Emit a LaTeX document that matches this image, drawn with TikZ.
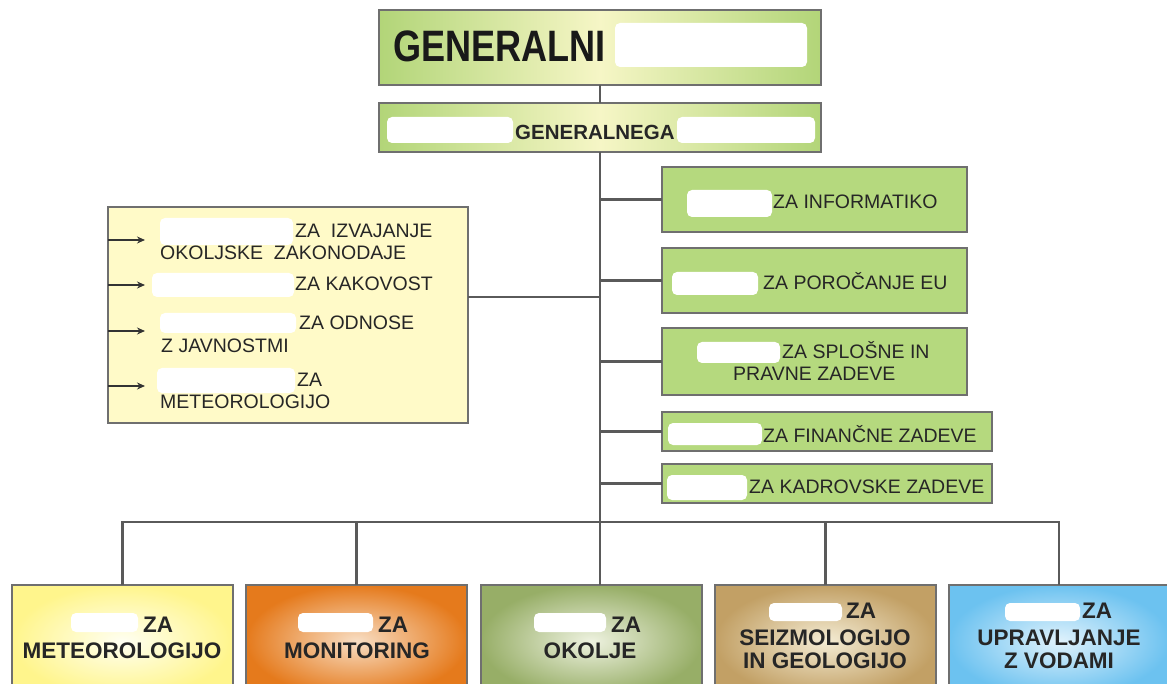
\documentclass[tikz,border=0pt]{standalone}
\usepackage{fontspec}
\setmainfont{Liberation Sans}
\newfontfamily\condbold[FakeStretch=0.82]{Liberation Sans Bold}
\usetikzlibrary{arrows.meta}
\definecolor{edgegray}{HTML}{6F6F6F}
\definecolor{linegray}{HTML}{5A5A5A}
\definecolor{topgreen}{HTML}{B2D578}
\definecolor{toplight}{HTML}{F6F6C6}
\definecolor{boxgreen}{HTML}{B5D97E}
\definecolor{lyellow}{HTML}{FFFAC8}
\definecolor{yout}{HTML}{FFF58C}
\definecolor{yin}{HTML}{FFFFF2}
\definecolor{oout}{HTML}{E57A1C}
\definecolor{oin}{HTML}{F8DEC4}
\definecolor{gout}{HTML}{97AE67}
\definecolor{gin}{HTML}{EEF2E0}
\definecolor{tout}{HTML}{C2A065}
\definecolor{tin}{HTML}{F4ECD4}
\definecolor{bout}{HTML}{6CC2F0}
\definecolor{bin}{HTML}{E0F2FC}
\begin{document}
\begin{tikzpicture}[x=1pt,y=-1pt,
  frame/.style={draw=edgegray, line width=2pt, inner sep=0pt, outer sep=0pt},
  topbox/.style={frame, left color=topgreen, right color=topgreen, middle color=toplight},
  gbox/.style={frame, fill=boxgreen},
  ybox/.style={frame, fill=lyellow},
  bbox/.style={frame, minimum width=221pt, minimum height=112pt},
  conn/.style={draw=linegray, line width=2.6pt},
  arr/.style={draw=black!80, line width=1.3pt, -{Stealth[length=8pt,width=7pt]}},
  blob/.style={fill=white, rounded corners=5pt},
  small/.style={inner sep=0pt, anchor=base west, font=\fontsize{19.5}{22}\selectfont, text=black!85},
  big/.style={inner sep=0pt, anchor=base, font=\fontsize{22.5}{26}\selectfont\bfseries, text=black!85},
  bigw/.style={big, anchor=base west}]
\useasboundingbox (0,0) rectangle (1167,684);
\clip (0,0) rectangle (1167,684);

% top boxes
\node[topbox, minimum width=442pt, minimum height=75pt] (gd) at (600,47.5) {};
\node[topbox, minimum width=442pt, minimum height=49pt] (sgd) at (600,127.5) {};
\fill[blob] (615,23) rectangle (807,67);
\node[inner sep=0pt, anchor=base west, font=\fontsize{44}{48}\condbold, text=black!90] (t1) at (393,62) {GENERALNI};
\fill[blob] (387,117) rectangle (513,143);
\fill[blob] (677,117) rectangle (815,143);
\node[inner sep=0pt, anchor=base west, font=\fontsize{20.5}{24}\selectfont\bfseries, text=black!85] (t2) at (515,140) {GENERALNEGA};

% right boxes
\node[gbox, minimum width=305pt, minimum height=65pt] (r1) at (814.5,199.5) {};
\node[gbox, minimum width=305pt, minimum height=65pt] (r2) at (814.5,280.5) {};
\node[gbox, minimum width=305pt, minimum height=67pt] (r3) at (814.5,361.5) {};
\node[gbox, minimum width=330pt, minimum height=39pt] (r4) at (827,431.5) {};
\node[gbox, minimum width=330pt, minimum height=39pt] (r5) at (827,483.5) {};
\fill[blob] (687,190) rectangle (772,217);
\node[small] (r1t) at (773,209) {ZA INFORMATIKO};
\fill[blob] (672,272) rectangle (758,295);
\node[small] (r2t) at (763,290) {ZA POROČANJE EU};
\fill[blob] (697,342) rectangle (780,363);
\node[small] (r3t) at (782,359) {ZA SPLOŠNE IN};
\node[small] (r3u) at (733,381) {PRAVNE ZADEVE};
\fill[blob] (668,423) rectangle (762,445);
\node[small] (r4t) at (763,442) {ZA FINANČNE ZADEVE};
\fill[blob] (667,475) rectangle (747,500);
\node[small] (r5t) at (749,493) {ZA KADROVSKE ZADEVE};

% left box
\node[ybox, minimum width=360pt, minimum height=216pt] (lb) at (288,315) {};
\fill[blob] (160,218) rectangle (293,245);
\node[small] (l1) at (295,238) {ZA\ \ IZVAJANJE};
\node[small] (l1b) at (160,260) {OKOLJSKE\ \ ZAKONODAJE};
\fill[blob] (152,273) rectangle (294,297);
\node[small] (l2) at (295,291) {ZA KAKOVOST};
\fill[blob] (160,313) rectangle (296,333);
\node[small] (l3) at (299,330) {ZA ODNOSE};
\node[small] (l3b) at (161,353) {Z JAVNOSTMI};
\fill[blob] (157,368) rectangle (295,393);
\node[small] (l4) at (297,387) {ZA};
\node[small] (l4b) at (160,408) {METEOROLOGIJO};
\foreach \yy in {240,285,331,386}
  \draw[arr] (lb.west |- 0,\yy) -- ++(37,0);

% bottom boxes
\node[bbox, inner color=yin, outer color=yout] (b1) at (122.5,641) {};
\node[bbox, inner color=oin, outer color=oout] (b2) at (356.5,641) {};
\node[bbox, inner color=gin, outer color=gout] (b3) at (591,641) {};
\node[bbox, inner color=tin, outer color=tout] (b4) at (825.5,641) {};
\node[bbox, inner color=bin, outer color=bout] (b5) at (1059,641) {};

\fill[blob] (71,613) rectangle (138,632);
\node[bigw] (b1a) at (143,632) {ZA};
\node[big] (b1b) at (122,658) {METEOROLOGIJO};
\fill[blob] (298,613) rectangle (373,632);
\node[bigw] (b2a) at (378,632) {ZA};
\node[big] (b2b) at (357,658) {MONITORING};
\fill[blob] (534,613) rectangle (606,632);
\node[bigw] (b3a) at (611,632) {ZA};
\node[big] (b3b) at (590,658) {OKOLJE};
\fill[blob] (769,603) rectangle (842,621);
\node[bigw] (b4a) at (846,618) {ZA};
\node[big] (b4b) at (825,645) {SEIZMOLOGIJO};
\node[big] (b4c) at (825,668) {IN GEOLOGIJO};
\fill[blob] (1005,603) rectangle (1080,621);
\node[bigw] (b5a) at (1082,618) {ZA};
\node[big] (b5b) at (1059,645) {UPRAVLJANJE};
\node[big] (b5c) at (1059,668) {Z VODAMI};

% connectors
\coordinate (bus) at (600,522);
\draw[conn] (gd.south) -- (sgd.north);
\draw[conn] (sgd.south) -- (sgd.south |- b3.north);
\foreach \r in {r1,r2,r3,r4,r5}
  \draw[conn] (\r.west) -- (\r.west -| sgd.south);
\draw[conn] ([yshift=18pt]lb.east) -- ([yshift=18pt]lb.east -| sgd.south);
\draw[conn] (b1.north) -- (b1.north |- bus) -- (b5.north |- bus) -- (b5.north);
\draw[conn] (b2.north) -- (b2.north |- bus);
\draw[conn] (b4.north) -- (b4.north |- bus);
\end{tikzpicture}
\end{document}
